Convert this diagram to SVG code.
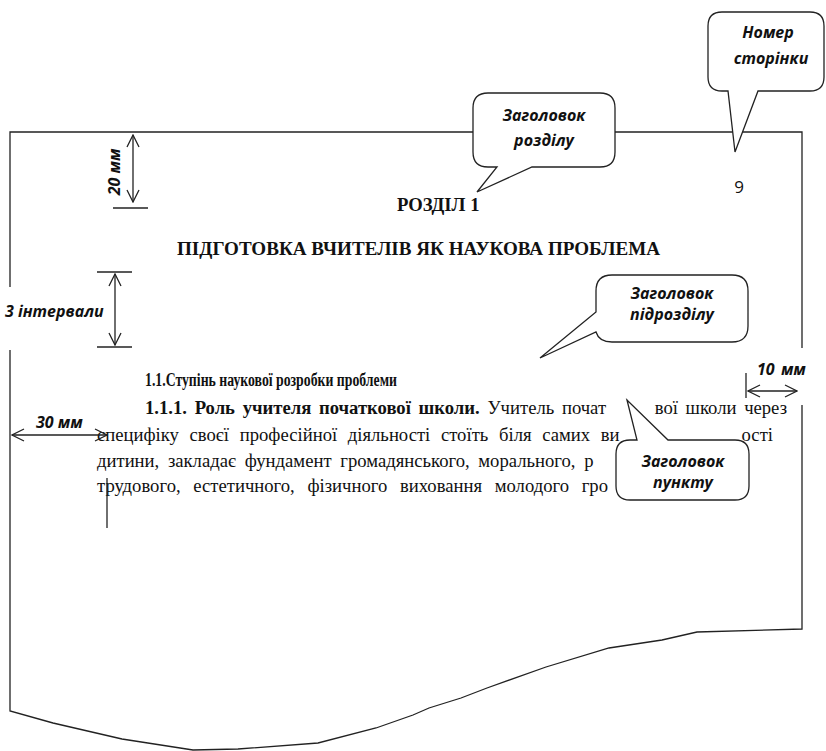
<svg xmlns="http://www.w3.org/2000/svg" width="826" height="751" viewBox="0 0 826 751">
<style>
.ln{fill:none;stroke:#222;stroke-width:1.3}
.dim{fill:none;stroke:#222;stroke-width:1.3;marker-start:url(#arr);marker-end:url(#arr)}
.co{fill:#fff;stroke:#222;stroke-width:1.3;stroke-linejoin:miter}
.ct{font-family:"Open Sans","Noto Sans",sans-serif;font-weight:bold;font-style:italic;font-size:16px;fill:#111;text-anchor:middle}
.lb{font-family:"Open Sans","Noto Sans",sans-serif;font-weight:bold;font-style:italic;font-size:16px;fill:#111}
.tb{font-family:"Liberation Serif","Times New Roman",serif;font-weight:bold;font-size:18.67px;fill:#111}
.tr{font-family:"Liberation Serif","Times New Roman",serif;font-size:18.67px;fill:#111}
</style>
<defs>
<marker id="arr" viewBox="0 0 14 14" refX="13" refY="7" markerWidth="14" markerHeight="14" markerUnits="userSpaceOnUse" orient="auto-start-reverse">
<path d="M1,1 L13,7 L1,13" fill="none" stroke="#222" stroke-width="1.3"/>
</marker>
</defs>
<rect width="826" height="751" fill="#fff"/>
<g id="page">
<path class="ln" d="M10,287 V132 H802 V348"/>
<path class="ln" d="M802,405 V629 L697,632 L662,640 L609,648 L546,667 L487,688 L461,698 L429,708 L413,715 L376,728 L318,743 L238,749 L193,750 L122,739 L53,723 L10,711 V350"/>
</g>
<g id="text">
<text class="tb" x="397" y="211">РОЗДІЛ 1</text>
<text class="tb" x="177" y="255" textLength="483" lengthAdjust="spacingAndGlyphs">ПІДГОТОВКА ВЧИТЕЛІВ ЯК НАУКОВА ПРОБЛЕМА</text>
<text class="tb" x="145" y="386" textLength="252" lengthAdjust="spacingAndGlyphs">1.1.Ступінь наукової розробки проблеми</text>
<text class="tr" x="145" y="414" word-spacing="3"><tspan class="tb">1.1.1. Роль учителя початкової школи.</tspan> Учитель почат</text>
<text class="tr" x="787" y="414" text-anchor="end" word-spacing="3">вої школи через</text>
<text class="tr" x="97" y="441" word-spacing="6">специфіку своєї професійної діяльності стоїть біля самих ви</text>
<text class="tr" x="773" y="441" text-anchor="end">ості</text>
<text class="tr" x="97" y="467" word-spacing="4">дитини, закладає фундамент громадянського, морального, р</text>
<text class="tr" x="97" y="492" word-spacing="8">трудового, естетичного, фізичного виховання молодого гро</text>
<text x="739" y="193" font-family="'Open Sans','Noto Sans',sans-serif" font-size="17" fill="#111" text-anchor="middle">9</text>
<line class="ln" x1="107" y1="478" x2="107" y2="528"/>
</g>
<g id="connectors">
<line class="dim" x1="133" y1="135" x2="133" y2="202"/>
<line class="ln" x1="113" y1="208" x2="148" y2="208"/>
<line class="ln" x1="97" y1="272" x2="132" y2="272"/>
<line class="dim" x1="115" y1="274" x2="115" y2="345"/>
<line class="ln" x1="97" y1="347" x2="132" y2="347"/>
<line class="dim" x1="12" y1="435" x2="107" y2="435"/>
<line class="ln" x1="746" y1="373" x2="746" y2="398"/>
<line class="dim" x1="748" y1="391" x2="797" y2="391"/>
</g>
<g id="dim-labels">
<text class="lb" transform="translate(120,172) rotate(-90)" text-anchor="middle">20 мм</text>
<text class="lb" x="5" y="317">3 інтервали</text>
<text class="lb" x="36" y="428">30 мм</text>
<text class="lb" y="375"><tspan x="757">10</tspan><tspan x="781">мм</tspan></text>
</g>
<g id="callout-page-number">
<path class="co" d="M722,12 H810 Q824,12 824,26 V77 Q824,91 810,91 H758 L735,152 L728,91 H722 Q708,91 708,77 V26 Q708,12 722,12 Z"/>
<text class="ct" x="768" y="38">Номер</text>
<text class="ct" x="771" y="64">сторінки</text>
</g>
<g id="callout-section">
<path class="co" d="M488,93 H600 Q615,93 615,108 V152 Q615,167 600,167 H532 L477,192 L497,167 H488 Q473,167 473,152 V108 Q473,93 488,93 Z"/>
<text class="ct" x="544" y="121">Заголовок</text>
<text class="ct" x="544" y="146">розділу</text>
</g>
<g id="callout-subsection">
<path class="co" d="M612,275 H732 Q748,275 748,291 V326 Q748,342 732,342 H612 Q599,342 596,332 L540,358 L596,312 V291 Q596,275 612,275 Z"/>
<text class="ct" x="672" y="299">Заголовок</text>
<text class="ct" x="672" y="320">підрозділу</text>
</g>
<g id="callout-item">
<path class="co" d="M630,440 H637 L627,400 L668,440 H735 Q749,440 749,454 V486 Q749,500 735,500 H630 Q616,500 616,486 V454 Q616,440 630,440 Z"/>
<text class="ct" x="683" y="467">Заголовок</text>
<text class="ct" x="683" y="488">пункту</text>
</g>
</svg>
